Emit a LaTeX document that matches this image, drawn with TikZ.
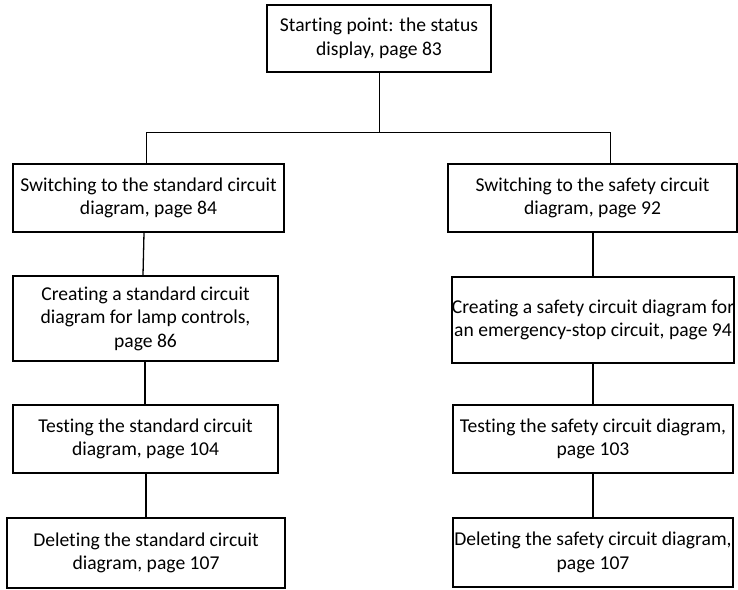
\documentclass[tikz,border=0pt]{standalone}
\usepackage{fontspec}
\setmainfont[Ligatures=NoCommon]{Carlito}
\tikzset{
  stepbox/.style={draw, line width=1.8pt, align=center, inner sep=0pt,
    font=\fontsize{19.6}{23.5}\selectfont},
  thinlink/.style={line width=1pt},
  thicklink/.style={line width=1.8pt}
}
\begin{document}
\begin{tikzpicture}[x=1pt,y=-1pt]
    \useasboundingbox (0,0) rectangle (738,589);

    % starting point
    \node[stepbox, minimum width=224pt, minimum height=67pt] (start) at (379,38.5)
      {Starting point: the status\\display, page 83};

    % standard circuit diagram column
    \node[stepbox, minimum width=271pt, minimum height=68pt] (std1) at (148.5,198)
      {Switching to the standard circuit\\diagram, page 84};
    \node[stepbox, minimum width=265pt, minimum height=85pt] (std2) at (145.5,318.5)
      {Creating a standard circuit\\diagram for lamp controls,\\page 86};
    \node[stepbox, minimum width=265pt, minimum height=68pt] (std3) at (145.5,439)
      {Testing the standard circuit\\diagram, page 104};
    \node[stepbox, minimum width=278pt, minimum height=70pt] (std4) at (146,553)
      {Deleting the standard circuit\\diagram, page 107};

    % safety circuit diagram column
    \node[stepbox, minimum width=289pt, minimum height=68pt] (saf1) at (592.5,198)
      {Switching to the safety circuit\\diagram, page 92};
    \node[stepbox, minimum width=280pt, minimum height=86pt] (saf2) at (593,320)
      {Creating a safety circuit diagram for\\an emergency-stop circuit, page 94};
    \node[stepbox, minimum width=280pt, minimum height=68pt] (saf3) at (593,439)
      {Testing the safety circuit diagram,\\page 103};
    \node[stepbox, minimum width=280pt, minimum height=69pt] (saf4) at (593,552.5)
      {Deleting the safety circuit diagram,\\page 107};

    % branching
    \coordinate (splitL) at (146,132);
    \coordinate (splitR) at (610,132);
    \draw[thinlink] (start.south) -- (start.south |- splitL);
    \draw[thinlink] (std1.north -| splitL) -- (splitL) -- (splitR) -- (saf1.north -| splitR);

    % links down each column
    \draw[line width=1.3pt] (std1.south -| 144,0) -- (std2.north -| 143,0);
    \draw[thicklink] (std2.south -| 145,0) -- (std3.north -| 145,0);
    \draw[thicklink] (std3.south -| 146,0) -- (std4.north -| 146,0);
    \draw[thicklink] (saf1.south -| 593,0) -- (saf2.north -| 593,0);
    \draw[thicklink] (saf2.south -| 593,0) -- (saf3.north -| 593,0);
    \draw[thicklink] (saf3.south -| 593,0) -- (saf4.north -| 593,0);
\end{tikzpicture}
\end{document}
